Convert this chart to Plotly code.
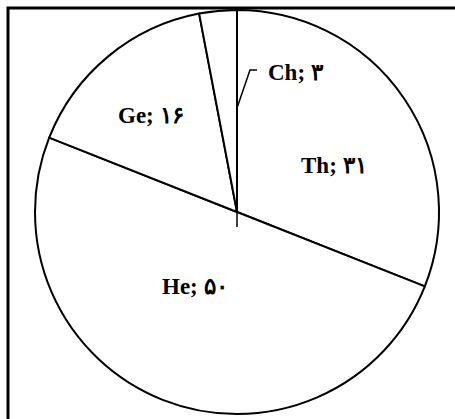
import plotly.graph_objects as go

# slice data (clockwise from 12 o'clock)
names = ["Th", "He", "Ge", "Ch"]
values = [31, 50, 16, 3]

W, H = 455, 419

def fa_digits(n):
    return str(n).translate(str.maketrans("0123456789", "۰۱۲۳۴۵۶۷۸۹"))

labels_text = [f"<b>{n}; {fa_digits(v)}</b>" for n, v in zip(names, values)]

# pixel helpers -> paper coords (no margins)
def px(x):
    return x / W

def py(y):
    return 1 - y / H

cx, cy, r = 237, 212, 202

fig = go.Figure()
fig.add_trace(go.Pie(
    labels=names, values=values, sort=False, direction="clockwise", rotation=0,
    marker=dict(colors=["white"] * len(values), line=dict(color="black", width=2)),
    textinfo="none", hoverinfo="label+value", showlegend=False,
    domain=dict(x=[px(cx - r), px(cx + r)], y=[py(cy + r), py(cy - r)]),
))

# label positions (pixels)
label_pos = [(334, 165), (195, 286), (151, 115), (296, 73)]
font = dict(family="Liberation Serif, Times New Roman, DejaVu Serif, serif", size=23, color="black")
for t, (x, y) in zip(labels_text, label_pos):
    fig.add_annotation(x=px(x), y=py(y), xref="paper", yref="paper", text=t,
                       showarrow=False, font=font, xanchor="center", yanchor="middle")

# leader line for the small Ch slice, and frame
fig.add_shape(type="path", xref="paper", yref="paper",
              path=f"M {px(237)} {py(108)} L {px(250)} {py(70)} L {px(257)} {py(70)}",
              line=dict(color="black", width=1.5))
fig.add_shape(type="line", xref="paper", yref="paper", x0=px(cx), x1=px(cx), y0=py(cy), y1=py(227),
              line=dict(color="black", width=1.5))
fig.add_shape(type="path", xref="paper", yref="paper",
              path=f"M {px(8)} {py(420)} L {px(8)} {py(8)} L {px(456)} {py(8)}",
              line=dict(color="black", width=3))

fig.update_layout(width=W, height=H, margin=dict(l=0, r=0, t=0, b=0),
                  paper_bgcolor="white", plot_bgcolor="white")
fig.write_html("out.html", config={"displayModeBar": False},
               post_script="document.body.style.margin='0';")
